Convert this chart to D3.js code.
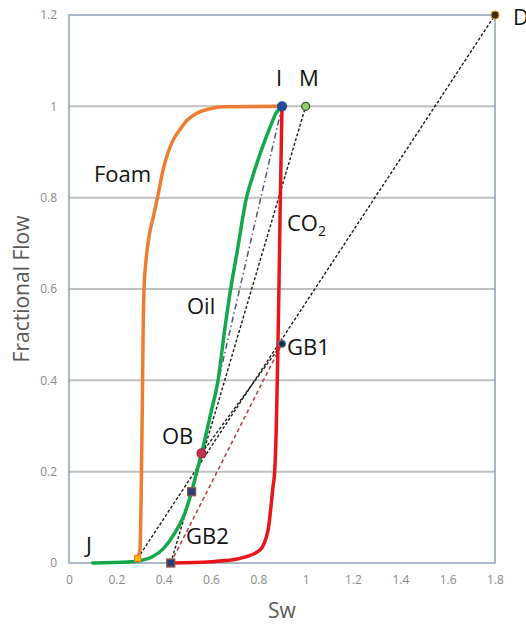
<!DOCTYPE html>
<html>
<head><meta charset="utf-8"></head>
<style>
  html, body { margin: 0; background: #fff; }
  svg { display: block; font-family: "Open Sans", sans-serif; }
</style>
<body>
<svg width="526" height="626"></svg>
<script src="https://cdnjs.cloudflare.com/ajax/libs/d3/7.8.5/d3.min.js"></script>
<script>
  // fractional flow curves
  const foamSw = [0.29, 0.30, 0.305, 0.31, 0.313, 0.317, 0.325, 0.34, 0.357, 0.374, 0.398, 0.44, 0.47, 0.50, 0.54, 0.60, 0.65, 0.90];
  const foamF  = [0.01, 0.03, 0.15, 0.35, 0.50, 0.60, 0.66, 0.72, 0.76, 0.80, 0.862, 0.926, 0.95, 0.97, 0.985, 0.995, 0.999, 1.0];

  const oilSw = [0.10, 0.25, 0.30, 0.35, 0.40, 0.45, 0.49, 0.518, 0.54, 0.56, 0.60, 0.63, 0.655, 0.68, 0.71, 0.75, 0.775, 0.81, 0.85, 0.875, 0.90];
  const oilF  = [0.00, 0.002, 0.005, 0.013, 0.032, 0.068, 0.11, 0.156, 0.20, 0.24, 0.33, 0.40, 0.50, 0.59, 0.68, 0.80, 0.845, 0.90, 0.955, 0.985, 1.0];

  const co2Sw = [0.43, 0.60, 0.72, 0.806, 0.841, 0.862, 0.869, 0.876, 0.882, 0.887, 0.893, 0.90];
  const co2F  = [0.00, 0.003, 0.01, 0.028, 0.072, 0.167, 0.20, 0.30, 0.45, 0.60, 0.80, 1.0];

  // named points
  const ptNames = ["I", "M", "D", "GB1", "OB", "GB2", "J", "K"];
  const ptSw    = [0.90, 1.00, 1.80, 0.90, 0.56, 0.518, 0.29, 0.43];
  const ptF     = [1.00, 1.00, 1.20, 0.48, 0.24, 0.156, 0.01, 0.00];

  // construction lines between points
  const lineFrom = ["J", "OB", "K", "I", "K"];
  const lineTo   = ["D", "GB1", "M", "OB", "GB1"];

  const xTicks = [0, 0.2, 0.4, 0.6, 0.8, 1, 1.2, 1.4, 1.6, 1.8];
  const yTicks = [0, 0.2, 0.4, 0.6, 0.8, 1, 1.2];

  const svg = d3.select("svg");
  const pLeft = 69, pTop = 15, pRight = 495, pBottom = 563;

  const x = d3.scaleLinear().domain([0, 1.8]).range([pLeft, pRight]);
  const y = d3.scaleLinear().domain([0, 1.2]).range([pBottom, pTop]);

  // gridlines
  svg.append("g").selectAll("line")
    .data(yTicks.filter(d => d > 0 && d < 1.2))
    .join("line")
    .attr("x1", pLeft).attr("x2", pRight)
    .attr("y1", d => y(d)).attr("y2", d => y(d))
    .attr("stroke", "#c0c0c0").attr("stroke-width", 2);

  // frame
  svg.append("rect")
    .attr("x", pLeft).attr("y", pTop)
    .attr("width", pRight - pLeft).attr("height", pBottom - pTop)
    .attr("fill", "none").attr("stroke", "#8093ad").attr("stroke-width", 1.3);

  // tick labels
  const xAxis = d3.axisBottom(x).tickValues(xTicks).tickSize(0).tickPadding(12)
    .tickFormat(d3.format("~g"));
  const yAxis = d3.axisLeft(y).tickValues(yTicks).tickSize(0).tickPadding(12)
    .tickFormat(d3.format("~g"));
  svg.append("g").attr("transform", `translate(0,${pBottom})`).call(xAxis);
  svg.append("g").attr("transform", `translate(${pLeft},0)`).call(yAxis);
  svg.selectAll(".domain").remove();
  svg.selectAll(".tick text")
    .attr("fill", "#8a8a8a").attr("font-size", 12)
    .attr("font-family", "Open Sans, sans-serif");

  // axis titles
  svg.append("text").attr("x", (pLeft + pRight) / 2).attr("y", 618)
    .attr("text-anchor", "middle").attr("font-size", 21).attr("fill", "#595959")
    .text("Sw");
  svg.append("text")
    .attr("transform", `translate(29,${(pTop + pBottom) / 2}) rotate(-90)`)
    .attr("text-anchor", "middle").attr("font-size", 21).attr("fill", "#595959")
    .text("Fractional Flow");

  const pt = name => {
    const i = ptNames.indexOf(name);
    return [ptSw[i], ptF[i]];
  };

  // construction lines
  const lineStyle = [
    {c: "#1a1a1a", d: "3,2", w: 1.4},
    {c: "#1a1a1a", d: "3,2", w: 1.4},
    {c: "#1a1a1a", d: "3,2", w: 1.4},
    {c: "#4a5a78", d: "6,3,1.5,3", w: 1.5},
    {c: "#b0474b", d: "4,3", w: 1.6}
  ];
  lineFrom.forEach((f, i) => {
    const a = pt(f), b = pt(lineTo[i]);
    svg.append("line")
      .attr("x1", x(a[0])).attr("y1", y(a[1]))
      .attr("x2", x(b[0])).attr("y2", y(b[1]))
      .attr("stroke", lineStyle[i].c)
      .attr("stroke-width", lineStyle[i].w)
      .attr("stroke-dasharray", lineStyle[i].d);
  });

  // curves
  const line = d3.line().x(d => x(d[0])).y(d => y(d[1])).curve(d3.curveMonotoneX);
  const curves = [
    {sw: foamSw, f: foamF, c: "#ed7d31"},
    {sw: oilSw, f: oilF, c: "#14a84a"},
    {sw: co2Sw, f: co2F, c: "#e8161b"}
  ];
  curves.forEach(cv => {
    svg.append("path")
      .attr("d", line(cv.sw.map((s, i) => [s, cv.f[i]])))
      .attr("fill", "none").attr("stroke", cv.c)
      .attr("stroke-width", 3.5).attr("stroke-linecap", "round");
  });

  // markers
  const circ = (name, r, fill, stroke) => {
    const p = pt(name);
    svg.append("circle").attr("cx", x(p[0])).attr("cy", y(p[1])).attr("r", r)
      .attr("fill", fill).attr("stroke", stroke).attr("stroke-width", 1.2);
  };
  const sq = (name, s, fill, stroke) => {
    const p = pt(name);
    svg.append("rect").attr("x", x(p[0]) - s / 2).attr("y", y(p[1]) - s / 2)
      .attr("width", s).attr("height", s)
      .attr("fill", fill).attr("stroke", stroke).attr("stroke-width", 1.3);
  };
  sq("J", 6, "#ffc000", "#ed7d31");
  sq("K", 8, "#2a3f7a", "#8c5a46");
  sq("GB2", 8, "#2a3f7a", "#8c5a46");
  circ("OB", 4.5, "#c8304a", "#a02040");
  circ("GB1", 3.5, "#1c2a45", "#6a7a95");
  circ("I", 4.5, "#2c4a94", "#2c4a94");
  circ("M", 4, "#8fd06a", "#37502a");
  circ("D", 4, "#3a2a12", "#d6a62a");

  // labels
  const labels = [
    {t: "Foam", x: 94, y: 182},
    {t: "I", x: 276, y: 86},
    {t: "M", x: 299, y: 86},
    {t: "D", x: 513, y: 25},
    {t: "Oil", x: 187, y: 314},
    {t: "GB1", x: 287, y: 355},
    {t: "OB", x: 162, y: 444},
    {t: "GB2", x: 186, y: 544},
    {t: "J", x: 86, y: 553}
  ];
  svg.append("g").selectAll("text").data(labels).join("text")
    .attr("x", d => d.x).attr("y", d => d.y)
    .attr("font-size", 22).attr("fill", "#111")
    .text(d => d.t);

  const co2 = svg.append("text").attr("x", 287).attr("y", 231)
    .attr("font-size", 22).attr("fill", "#111");
  co2.append("tspan").text("CO");
  co2.append("tspan").attr("font-size", 14).attr("dy", 5).text("2");
</script>
</body>
</html>
